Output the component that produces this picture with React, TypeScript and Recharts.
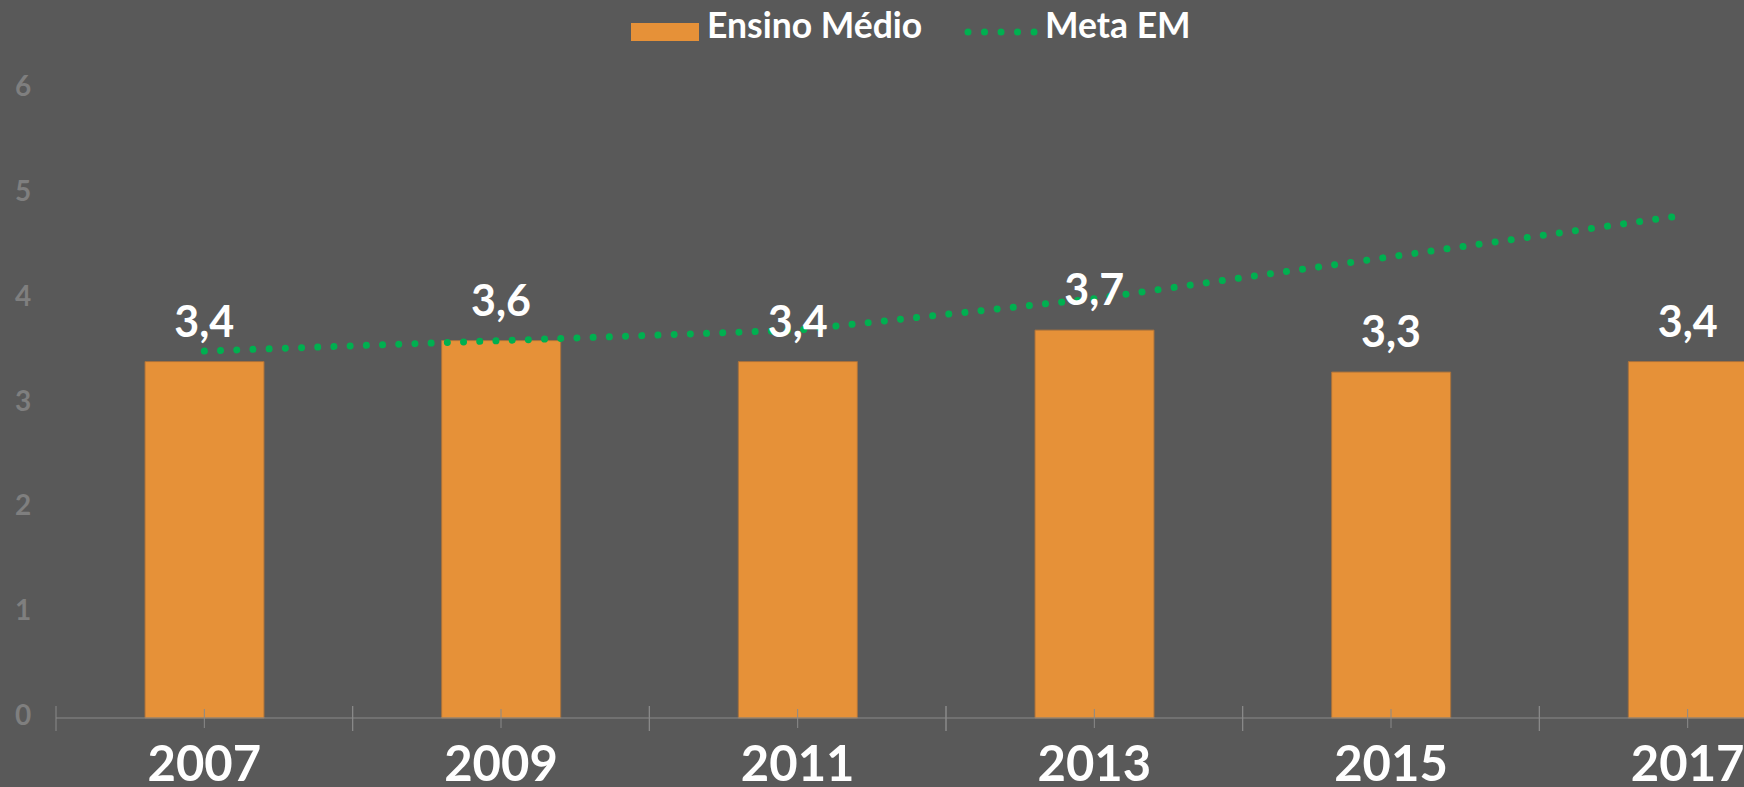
import { BarChart, Bar, Line, XAxis, YAxis, LabelList } from 'recharts';

const years = ['2007', '2009', '2011', '2013', '2015', '2017'];
const ensinoMedio = [3.4, 3.6, 3.4, 3.7, 3.3, 3.4];
const metaEM = [3.5, 3.6, 3.7, 4.0, 4.4, 4.8];
const yTicks = [0, 1, 2, 3, 4, 5, 6];

const data = years.map((year, i) => ({
  year,
  ensino: ensinoMedio[i],
  meta: metaEM[i],
}));

const BG = '#595959';
const ORANGE = '#E69138';
const GREEN = '#00B050';
const AXIS = '#8a8a8a';
const FONT = 'Lato, "Open Sans", sans-serif';

// chart is a bit wider than the window, the last band is cut like in the original
const CHART_W = 1836;
const CHART_H = 787;
const Y_W = 56;
const BAND = (CHART_W - Y_W) / years.length;

const fmt = (v: any) => String(v).replace('.', ',');

function YearTick({ x, y, payload }: any) {
  return (
    <g>
      <line x1={x} x2={x} y1={y - 9} y2={y + 10} stroke={AXIS} strokeWidth={1} />
      <line x1={x - BAND / 2} x2={x - BAND / 2} y1={y - 12} y2={y + 13} stroke={AXIS} strokeWidth={1} />
      <line x1={x + BAND / 2} x2={x + BAND / 2} y1={y - 12} y2={y + 13} stroke={AXIS} strokeWidth={1} />
      <text x={x} y={y + 63} textAnchor="middle" fill="#ffffff" fontSize={49} fontWeight={700} fontFamily={FONT}>
        {payload.value}
      </text>
    </g>
  );
}

function ValueTick({ y, payload }: any) {
  return (
    <text x={23} y={y + 7} textAnchor="middle" fill="#7f7f7f" fontSize={28} fontWeight={700} fontFamily={FONT}>
      {payload.value}
    </text>
  );
}

export default function App() {
  return (
    <div
      style={{
        position: 'fixed',
        top: 0,
        left: 0,
        width: 1744,
        height: 787,
        overflow: 'hidden',
        background: BG,
      }}
    >
      <BarChart
        width={CHART_W}
        height={CHART_H}
        data={data}
        margin={{ top: 89, right: 0, left: 0, bottom: 0 }}
        barCategoryGap={0}
      >
        <XAxis
          dataKey="year"
          height={69}
          axisLine={{ stroke: AXIS, strokeWidth: 1 }}
          tickLine={false}
          tickSize={0}
          tickMargin={0}
          interval={0}
          tick={<YearTick />}
        />
        <YAxis
          width={Y_W}
          domain={[0, 6]}
          ticks={yTicks}
          axisLine={false}
          tickLine={false}
          tickSize={0}
          tick={<ValueTick />}
        />
        <Bar
          dataKey="ensino"
          name="Ensino Médio"
          fill={ORANGE}
          stroke="#a9713b"
          strokeWidth={1}
          barSize={119}
          isAnimationActive={false}
        />
        <Line
          dataKey="meta"
          name="Meta EM"
          type="linear"
          stroke={GREEN}
          strokeWidth={7}
          strokeDasharray="0.01 16.2"
          strokeLinecap="round"
          dot={false}
          activeDot={false}
          isAnimationActive={false}
        />
        {/* labels drawn after the dotted line so they sit on top of it */}
        <Line
          dataKey="ensino"
          stroke="none"
          dot={false}
          activeDot={false}
          legendType="none"
          isAnimationActive={false}
        >
          <LabelList
            dataKey="ensino"
            position="top"
            offset={25}
            formatter={fmt}
            fill="#ffffff"
            fontSize={43}
            fontWeight={700}
            fontFamily={FONT}
          />
        </Line>
      </BarChart>

      <svg width={1744} height={60} style={{ position: 'absolute', top: 0, left: 0 }}>
        <rect x={631} y={23} width={68} height={18} fill={ORANGE} />
        <text x={707} y={38} fill="#ffffff" fontSize={35.5} fontWeight={700} fontFamily={FONT}>
          Ensino Médio
        </text>
        <line
          x1={968}
          x2={1036}
          y1={32}
          y2={32}
          stroke={GREEN}
          strokeWidth={7}
          strokeDasharray="0.01 16.5"
          strokeLinecap="round"
        />
        <text x={1045} y={38} fill="#ffffff" fontSize={35.5} fontWeight={700} fontFamily={FONT}>
          Meta EM
        </text>
      </svg>
    </div>
  );
}
